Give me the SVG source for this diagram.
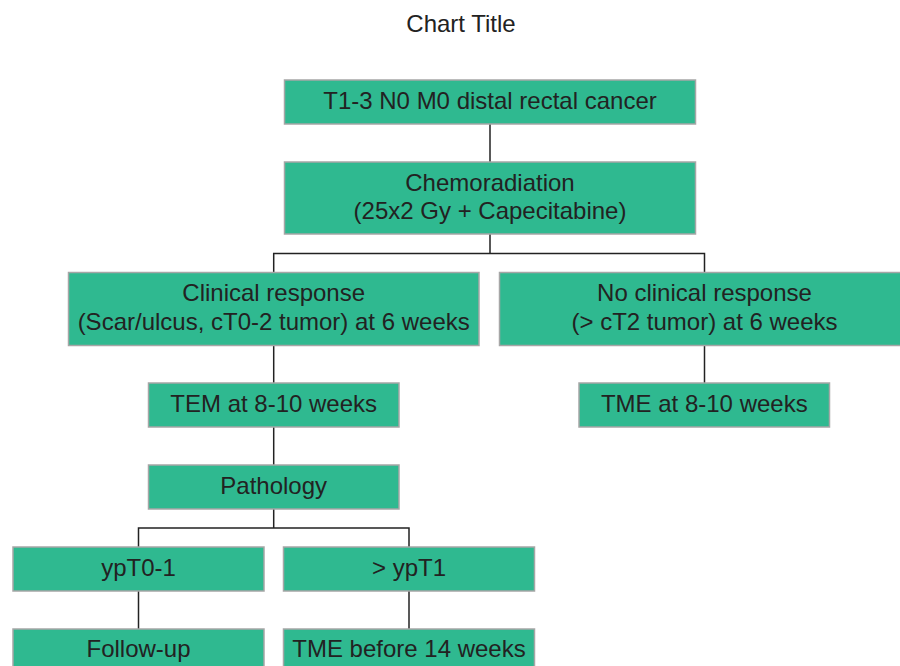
<svg xmlns="http://www.w3.org/2000/svg" width="900" height="666" viewBox="0 0 900 666">
<style>
.box{fill:#2FB990;stroke:#A6A6A6;stroke-width:1.5}
.t{font-family:"Liberation Sans",Arial,sans-serif;font-size:24px;fill:#222;text-anchor:middle}
.title{font-family:"Liberation Sans",Arial,sans-serif;font-size:24px;fill:#222;text-anchor:middle}
.c{fill:none;stroke:#222;stroke-width:1.5}
</style>
<rect width="900" height="666" fill="#fff"/>
<text class="title" x="461" y="31.7">Chart Title</text>
<g id="connectors">
<path class="c" d="M490,124V162"/>
<path class="c" d="M490,234V253.5M273.7,272.5V253.5H704.5V272.5"/>
<path class="c" d="M273.7,345.5V383"/>
<path class="c" d="M704.5,345.5V383"/>
<path class="c" d="M273.7,427V465"/>
<path class="c" d="M273.7,509V528M138.5,547V528H409V547"/>
<path class="c" d="M138.5,591V629"/>
<path class="c" d="M409,591V629"/>
</g>
<g id="n1"><rect class="box" x="284.5" y="80" width="411" height="44"/><text class="t" x="490" y="109.3">T1-3 N0 M0 distal rectal cancer</text></g>
<g id="n2"><rect class="box" x="284.5" y="162" width="411" height="72"/><text class="t" x="490" y="190.7">Chemoradiation</text><text class="t" x="490" y="218.5">(25x2 Gy + Capecitabine)</text></g>
<g id="n3"><rect class="box" x="68.5" y="272.5" width="410.5" height="73"/><text class="t" x="273.7" y="301">Clinical response</text><text class="t" x="273.7" y="329.5">(Scar/ulcus, cT0-2 tumor) at 6 weeks</text></g>
<g id="n4"><rect class="box" x="499.5" y="272.5" width="410" height="73"/><text class="t" x="704.5" y="301">No clinical response</text><text class="t" x="704.5" y="329.5">(&gt; cT2 tumor) at 6 weeks</text></g>
<g id="n5"><rect class="box" x="148.5" y="383" width="250.5" height="44"/><text class="t" x="273.7" y="411.7">TEM at 8-10 weeks</text></g>
<g id="n6"><rect class="box" x="579" y="383" width="250.5" height="44"/><text class="t" x="704.3" y="411.7">TME at 8-10 weeks</text></g>
<g id="n7"><rect class="box" x="148.5" y="465" width="250.5" height="44"/><text class="t" x="273.7" y="493.5">Pathology</text></g>
<g id="n8"><rect class="box" x="13" y="547" width="251" height="44"/><text class="t" x="138.5" y="575.5">ypT0-1</text></g>
<g id="n9"><rect class="box" x="283.5" y="547" width="251" height="44"/><text class="t" x="409" y="575.5">&gt; ypT1</text></g>
<g id="n10"><rect class="box" x="13" y="629" width="251" height="44"/><text class="t" x="138.5" y="657">Follow-up</text></g>
<g id="n11"><rect class="box" x="283.5" y="629" width="251" height="44"/><text class="t" x="409" y="657">TME before 14 weeks</text></g>
</svg>
